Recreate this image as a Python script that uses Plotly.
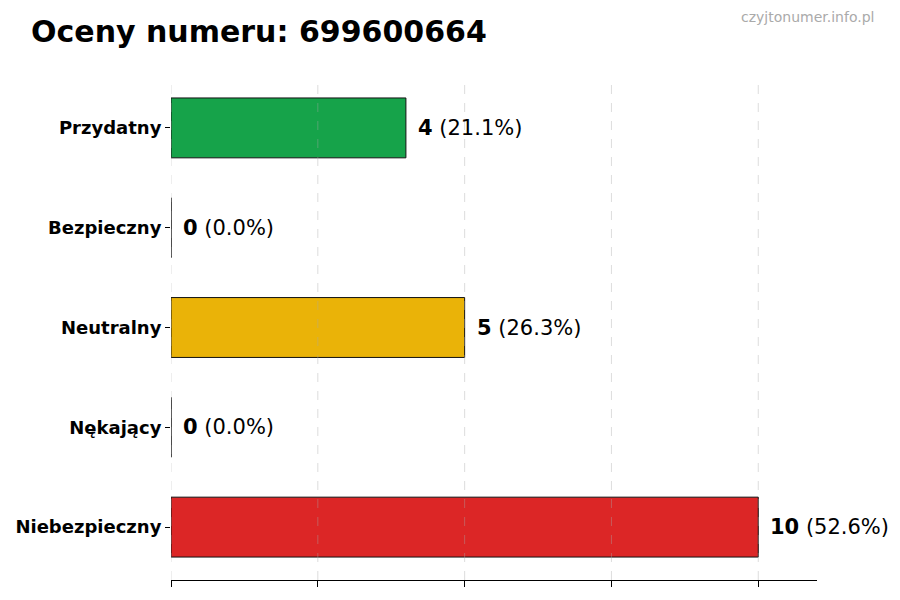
import plotly.graph_objects as go

categories = ["Niebezpieczny", "Nękający", "Neutralny", "Bezpieczny", "Przydatny"]
counts = [10, 0, 5, 0, 4]
colors = ["#dc2626", "#f97316", "#eab308", "#3b82f6", "#16a34a"]
grid_vals = [0, 2.5, 5, 7.5, 10]
total = sum(counts)
pcts = [c / total * 100 for c in counts]

W, H = 900, 600
ML, MR, MT, MB = 163, 91, 68, 28
OFF = 8  # page body offset

fig = go.Figure()
fig.add_trace(go.Bar(
    y=categories, x=counts, orientation="h", width=0.6,
    marker=dict(color=colors, line=dict(color="#111111", width=1)),
    hoverinfo="skip",
))

for cat, c, p in zip(categories, counts, pcts):
    fig.add_annotation(
        x=c, y=cat, xref="x", yref="y", xanchor="left", yanchor="middle",
        xshift=10, showarrow=False,
        text=f"<b>{c}</b> ({p:.1f}%)",
        font=dict(family="DejaVu Sans", size=21, color="#000000"),
    )

for g in grid_vals:
    fig.add_shape(type="line", xref="x", yref="paper", x0=g, x1=g, y0=0, y1=1,
                  layer="above", line=dict(color="rgba(170,170,170,0.4)", width=1, dash="dash"))

plot_w = W - ML - MR
plot_h = H - MT - MB
fig.add_annotation(
    x=(876 - OFF - ML) / plot_w, xanchor="right",
    y=1 + (MT - (17 - OFF)) / plot_h, yanchor="middle",
    xref="paper", yref="paper", showarrow=False,
    text="czyjtonumer.info.pl", font=dict(family="DejaVu Sans", size=14, color="#aaaaaa"),
)

fig.update_layout(
    width=W, height=H,
    paper_bgcolor="white", plot_bgcolor="white",
    margin=dict(l=ML, r=MR, t=MT, b=MB, autoexpand=False),
    showlegend=False,
    title=dict(text="<b>Oceny numeru: 699600664</b>", x=(31 - OFF) / W, xanchor="left",
               y=1 - (31 - OFF) / H, yanchor="middle",
               font=dict(family="DejaVu Sans", size=30, color="#000000")),
    xaxis=dict(range=[0, 11], tickvals=grid_vals, showticklabels=False, automargin=False,
               ticks="outside", ticklen=6, tickcolor="#000", showline=True,
               linecolor="#000", linewidth=1, zeroline=False, showgrid=False),
    yaxis=dict(range=[-0.53, 4.52], ticks="outside", ticklen=5, tickcolor="#000",
               showline=False, showgrid=False, zeroline=False, automargin=False,
               tickfont=dict(family="DejaVu Sans", size=18, color="#000000"),
               categoryorder="array", categoryarray=categories,
               tickvals=categories, ticktext=[f"<b>{c}</b>" for c in categories]),
)

fig.write_html("out.html")
